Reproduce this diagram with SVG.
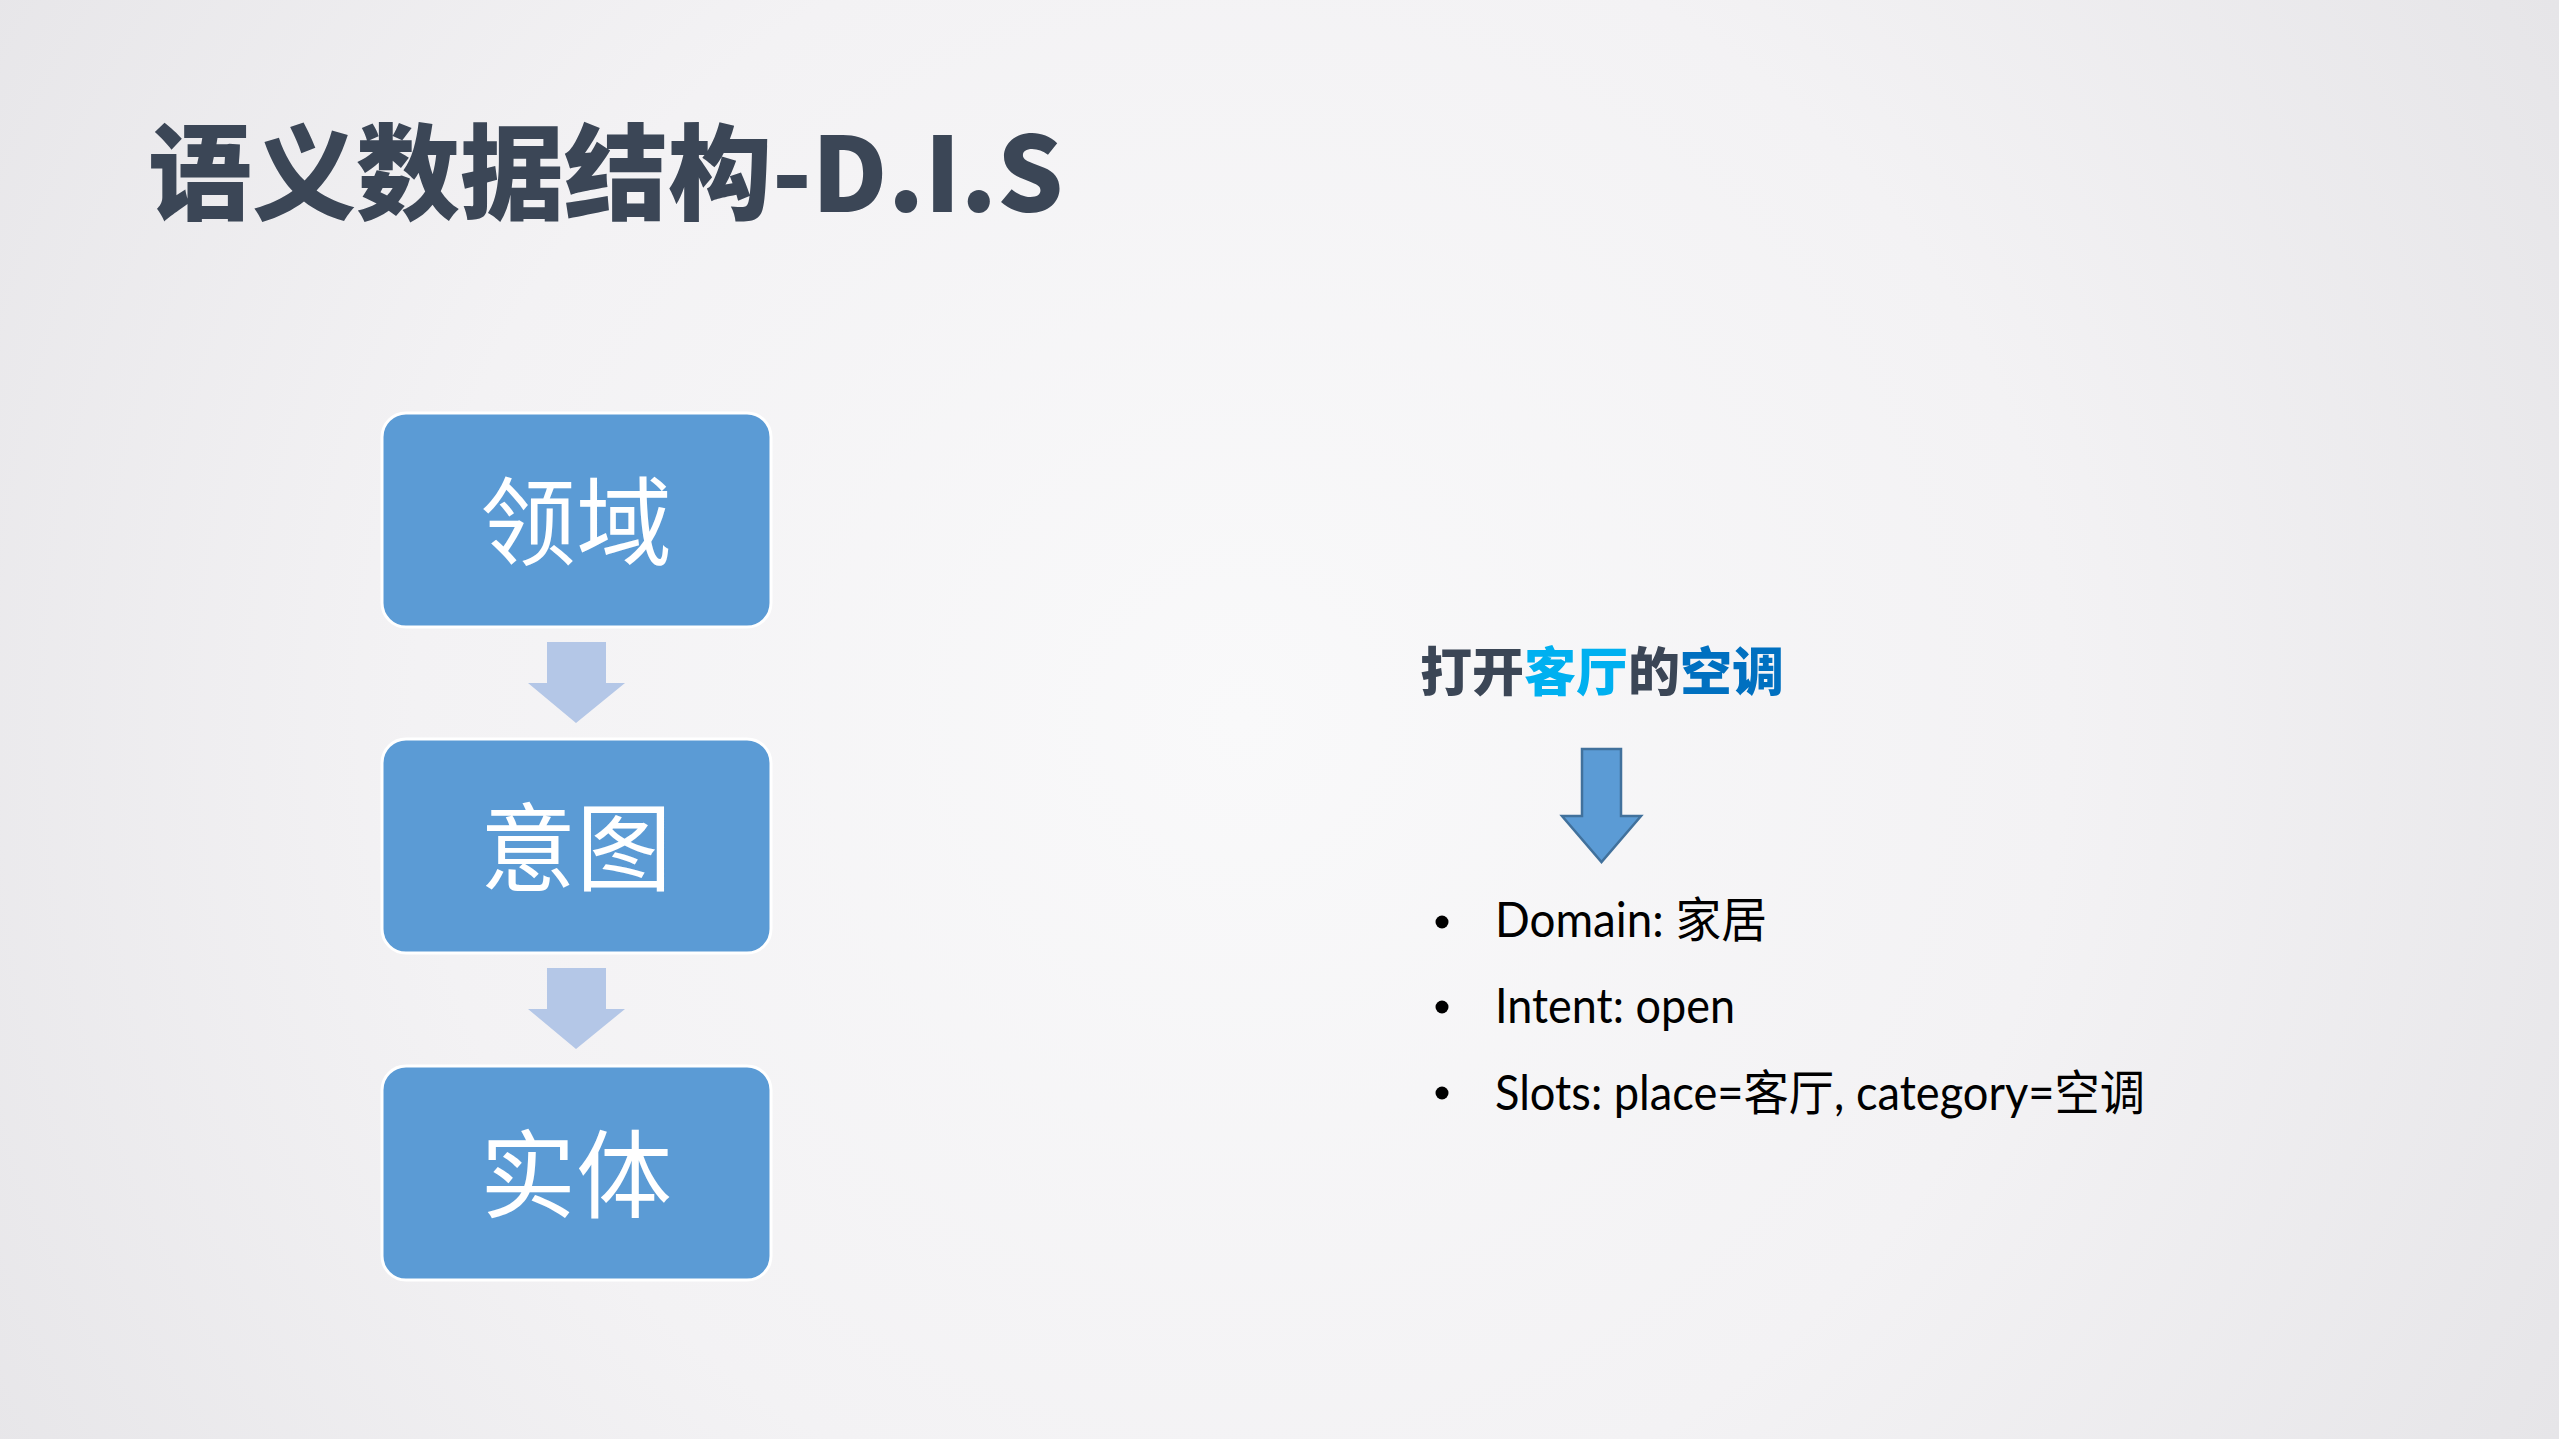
<svg xmlns="http://www.w3.org/2000/svg" width="2559" height="1439" viewBox="0 0 2559 1439">
  <defs>
    <radialGradient id="bg" cx="1240" cy="720" r="1500" gradientUnits="userSpaceOnUse">
      <stop offset="0" stop-color="#f9f9fa"/>
      <stop offset="0.55" stop-color="#f3f2f4"/>
      <stop offset="1" stop-color="#e6e5e8"/>
    </radialGradient>
  </defs>
  <style>
    .box { fill: #5b9bd5; stroke: #ffffff; stroke-width: 3; }
    .boxtxt { font-family: "Noto Sans CJK SC", "Noto Sans", sans-serif; font-size: 96px; font-weight: 400; fill: #ffffff; text-anchor: middle; }
    .flow { fill: #b4c7e7; }
    .title { font-family: "Noto Sans CJK SC", "Noto Sans", sans-serif; font-size: 104px; font-weight: 900; fill: #3b4656; }
    .head { font-family: "Noto Sans CJK SC", "Noto Sans", sans-serif; font-size: 52px; font-weight: 900; fill: #3b4656; }
    .bul { font-family: Lato, "Noto Sans CJK SC", sans-serif; font-size: 48px; fill: #000000; }
    .dot { fill: #000000; }
  </style>
  <rect x="0" y="0" width="2559" height="1439" fill="url(#bg)"/>

  <text class="title" x="148" y="212">语义数据结构-D.I.S</text>

  <g id="node-domain">
    <rect class="box" x="382" y="413" width="389" height="214" rx="24"/>
    <text class="boxtxt" x="576" y="557">领域</text>
  </g>
  <g id="node-intent">
    <rect class="box" x="382" y="739" width="389" height="214" rx="24"/>
    <text class="boxtxt" x="576" y="883">意图</text>
  </g>
  <g id="node-entity">
    <rect class="box" x="382" y="1066" width="389" height="214" rx="24"/>
    <text class="boxtxt" x="576" y="1210">实体</text>
  </g>

  <g id="connectors">
    <polygon class="flow" points="547,642 606,642 606,683 625,683 576,723 528,683 547,683"/>
    <polygon class="flow" points="547,968 606,968 606,1009 625,1009 576,1049 528,1009 547,1009"/>
    <polygon points="1582,749 1621,749 1621,816 1641,816 1601.5,862 1562,816 1582,816" fill="#5b9bd5" stroke="#41719c" stroke-width="2.5" stroke-linejoin="miter"/>
  </g>

  <g id="example">
    <text class="head" x="1420" y="691"><tspan>打开</tspan><tspan fill="#00b0f0">客厅</tspan><tspan>的</tspan><tspan fill="#0070c0">空调</tspan></text>
  </g>

  <g id="bullets">
    <circle class="dot" cx="1442" cy="922" r="6.5"/>
    <circle class="dot" cx="1442" cy="1007" r="6.5"/>
    <circle class="dot" cx="1442" cy="1093" r="6.5"/>
    <text class="bul" x="1495" y="937" textLength="272" lengthAdjust="spacingAndGlyphs">Domain: 家居</text>
    <text class="bul" x="1495" y="1023" textLength="240" lengthAdjust="spacingAndGlyphs">Intent: open</text>
    <text class="bul" x="1495" y="1110" textLength="650" lengthAdjust="spacingAndGlyphs">Slots: place=客厅, category=空调</text>
  </g>
</svg>
